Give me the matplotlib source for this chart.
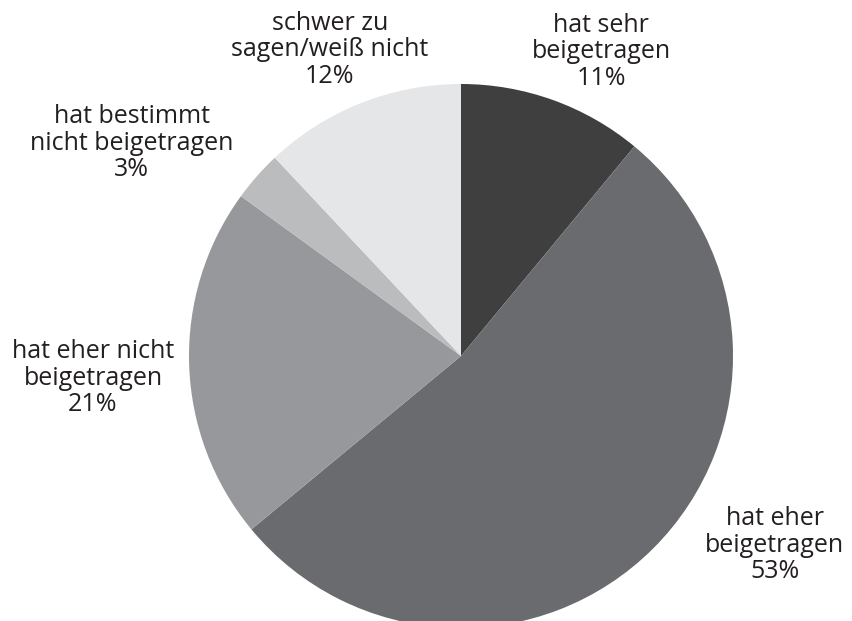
import matplotlib.pyplot as plt

labels = ["hat sehr\nbeigetragen", "hat eher\nbeigetragen", "hat eher nicht\nbeigetragen",
          "hat bestimmt\nnicht beigetragen", "schwer zu\nsagen/weiß nicht"]
values = [11, 53, 21, 3, 12]
colors = ["#3f3f3f", "#6a6b6e", "#97989b", "#bbbcbe", "#e5e6e7"]
# label centres in units of the pie radius
label_pos = [(0.515, 1.118), (1.154, -0.695), (-1.353, -0.081), (-1.21, 0.783), (-0.482, 1.125)]

plt.rcParams['font.family'] = ['Open Sans', 'DejaVu Sans']

fig = plt.figure(figsize=(8.52, 6.21), dpi=100)
ax = fig.add_axes([0, 0, 1, 1])
ax.pie(values, colors=colors, startangle=90, counterclock=False, radius=1,
       wedgeprops=dict(linewidth=0))

for lab, v, (x, y) in zip(labels, values, label_pos):
    ax.text(x, y, f"{lab}\n{v}%", ha="center", va="center", fontsize=18,
            color="#231f20", linespacing=1.08)

ax.set_xlim(-461 / 272, 391 / 272)
ax.set_ylim(-265 / 272, 356 / 272)
ax.set_aspect("equal")
ax.axis("off")

fig.savefig("out.png", dpi=100)
